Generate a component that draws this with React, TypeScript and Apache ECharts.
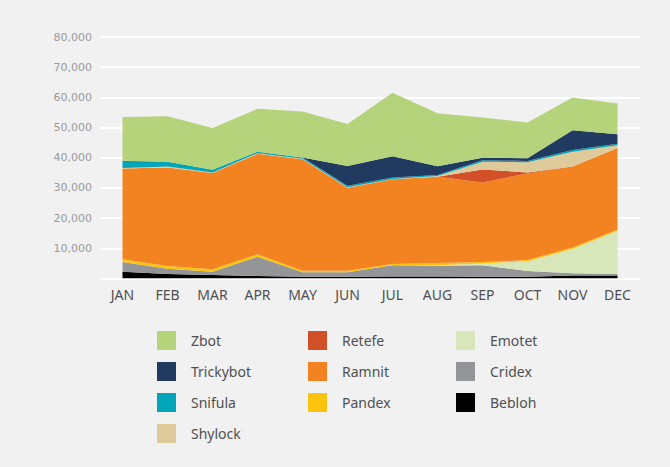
import React, { useEffect, useRef } from "react";
import * as echarts from "echarts";

const months = ["JAN", "FEB", "MAR", "APR", "MAY", "JUN", "JUL", "AUG", "SEP", "OCT", "NOV", "DEC"];

const bebloh = [2200, 1500, 1200, 800, 600, 600, 700, 700, 600, 600, 1000, 1000];
const cridex = [3300, 1750, 1050, 6400, 1450, 1450, 3650, 3500, 3800, 1900, 700, 500];
const emotet = [0, 0, 0, 0, 0, 0, 0, 200, 600, 3200, 8050, 14300];
const pandex = [900, 900, 800, 800, 550, 550, 450, 700, 450, 400, 550, 450];
const ramnit = [30000, 32650, 31900, 33300, 36900, 27450, 28100, 28600, 26350, 28700, 26800, 26950];
const retefe = [0, 0, 0, 0, 0, 0, 0, 0, 4300, 300, 0, 0];
const shylock = [200, 300, 200, 200, 150, 150, 100, 250, 2600, 3400, 4900, 900];
const snifula = [2400, 1550, 900, 500, 400, 500, 450, 300, 500, 450, 600, 500];
const trickybot = [0, 0, 0, 0, 0, 6600, 7050, 2950, 800, 900, 6500, 3200];
const zbot = [14500, 15100, 13800, 14200, 15300, 13900, 21000, 17550, 13300, 11850, 10900, 10150];

const seriesDefs = [
  { name: "Bebloh", data: bebloh, color: "#000000" },
  { name: "Cridex", data: cridex, color: "#939598" },
  { name: "Emotet", data: emotet, color: "#d8e7b9" },
  { name: "Pandex", data: pandex, color: "#fdc30f" },
  { name: "Ramnit", data: ramnit, color: "#f38221" },
  { name: "Retefe", data: retefe, color: "#d25027" },
  { name: "Shylock", data: shylock, color: "#dfca9b" },
  { name: "Snifula", data: snifula, color: "#00a5b9" },
  { name: "Trickybot", data: trickybot, color: "#213a5f" },
  { name: "Zbot", data: zbot, color: "#b5d37a" },
];

const legendCols = [
  { left: 157, names: ["Zbot", "Trickybot", "Snifula", "Shylock"] },
  { left: 308, names: ["Retefe", "Ramnit", "Pandex"] },
  { left: 456, names: ["Emotet", "Cridex", "Bebloh"] },
];

function fmt(v: number): string {
  return String(v).replace(/\B(?=(\d{3})+(?!\d))/g, ",");
}

export default function App() {
  const ref = useRef<HTMLDivElement>(null);
  useEffect(() => {
    if (!ref.current) return;
    const chart = echarts.init(ref.current, null, { renderer: "svg" });
    chart.setOption({
      animation: false,
      backgroundColor: "#f1f1f1",
      grid: { left: 100, right: 30, top: 37, bottom: 188.5, containLabel: false },
      xAxis: {
        type: "category",
        data: months,
        boundaryGap: true,
        axisLine: { show: false },
        axisTick: { show: false },
        axisLabel: { color: "#505050", fontSize: 14, fontFamily: "Noto Sans", margin: 9 },
        splitLine: { show: false },
      },
      yAxis: {
        type: "value",
        min: 0,
        max: 80000,
        interval: 10000,
        axisLine: { show: false },
        axisTick: { show: false },
        axisLabel: {
          color: "#9a9a9a",
          fontSize: 11,
          fontFamily: "DejaVu Sans",
          margin: 8,
          formatter: (v: number) => (v === 0 ? "" : fmt(v)),
        },
        splitLine: { show: true, lineStyle: { color: "#ffffff", width: 2 } },
      },
      legend: legendCols.map((c) => ({
        orient: "vertical",
        left: c.left,
        top: 331,
        padding: 0,
        itemWidth: 19,
        itemHeight: 19,
        itemGap: 12,
        icon: "rect",
        selectedMode: false,
        data: c.names,
        textStyle: {
          color: "#505050",
          fontSize: 14,
          fontFamily: "Noto Sans",
          padding: [0, 0, 0, 10],
        },
      })),
      series: seriesDefs.map((s) => ({
        name: s.name,
        type: "line",
        stack: "total",
        data: s.data,
        symbol: "none",
        showSymbol: false,
        lineStyle: { width: 0, color: s.color },
        itemStyle: { color: s.color },
        areaStyle: { color: s.color, opacity: 1 },
        emphasis: { disabled: true },
      })),
    });
    return () => chart.dispose();
  }, []);
  return (
    <div style={{ position: "fixed", left: 0, top: 0, width: 670, height: 467, background: "#f1f1f1" }}>
      <div ref={ref} style={{ width: 670, height: 467 }} />
    </div>
  );
}
